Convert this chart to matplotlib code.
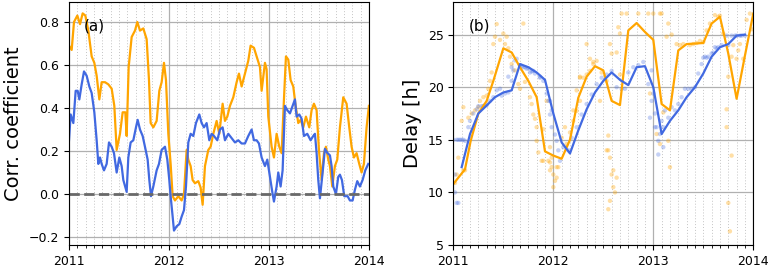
import numpy as np
import matplotlib
matplotlib.use("Agg")
import matplotlib.pyplot as plt
from matplotlib.ticker import MultipleLocator

# ---------------- data (x in months since Jan 2011) ----------------
corr_orange_m = [0, 0.32, 0.6, 1.0, 1.32, 1.64, 1.96, 2.32, 2.72, 3.04, 3.32, 3.64, 3.92, 4.32, 4.72,
                 5.12, 5.44, 5.72, 6.12, 6.44, 6.76, 6.92, 7.16, 7.52, 7.92, 8.2, 8.52, 8.92, 9.32, 9.6,
                 9.8, 10.12, 10.52, 10.84, 11.12, 11.4, 11.64, 11.92, 12.2, 12.44, 12.72, 13.12, 13.52,
                 13.8, 14.12, 14.32, 14.6, 14.84, 15.12, 15.52, 15.8, 16.04, 16.32, 16.72, 17.0, 17.32,
                 17.72, 18.04, 18.44, 18.72, 19.0, 19.32, 19.72, 20.12, 20.4, 20.72, 21.12, 21.52, 21.8,
                 22.2, 22.6, 22.92, 23.12, 23.52, 23.72, 23.92, 24.32, 24.6, 24.92, 25.24, 25.52, 25.8,
                 26.04, 26.32, 26.6, 26.92, 27.2, 27.52, 27.8, 28.12, 28.44, 28.84, 29.12, 29.4, 29.72,
                 30.0, 30.32, 30.6, 30.84, 31.12, 31.32, 31.6, 31.92, 32.2, 32.52, 32.92, 33.32, 33.64,
                 33.92, 34.2, 34.52, 34.84, 35.12, 35.4, 35.72, 36.0]
corr_orange = [0.69, 0.67, 0.80, 0.83, 0.79, 0.84, 0.83, 0.76, 0.64, 0.61, 0.55, 0.44, 0.52, 0.52, 0.51,
               0.49, 0.41, 0.205, 0.28, 0.38, 0.38, 0.27, 0.59, 0.73, 0.76, 0.80, 0.76, 0.77, 0.72, 0.53,
               0.33, 0.31, 0.34, 0.48, 0.52, 0.61, 0.53, 0.28, 0.14, -0.01, -0.03, -0.01, -0.03,
               0.00, 0.205, 0.16, 0.13, 0.065, 0.05, 0.06, 0.03, -0.05, 0.13, 0.205, 0.22, 0.28,
               0.34, 0.28, 0.42, 0.34, 0.36, 0.41, 0.45, 0.52, 0.56, 0.50, 0.56, 0.62, 0.69,
               0.68, 0.63, 0.59, 0.48, 0.61, 0.58, 0.36, 0.22, 0.17, 0.28, 0.22, 0.19, 0.44,
               0.64, 0.625, 0.53, 0.50, 0.41, 0.33, 0.345, 0.31, 0.36, 0.31, 0.39, 0.42, 0.39,
               0.205, 0.065, 0.19, 0.22, 0.16, 0.13, 0.035, 0.13, 0.16, 0.31, 0.45, 0.42, 0.31,
               0.22, 0.17, 0.19, 0.14, 0.10, 0.14, 0.31, 0.41]

corr_blue_m = [0, 0.2, 0.52, 0.8, 1.04, 1.24, 1.52, 1.8, 2.12, 2.44, 2.72, 3.04, 3.32, 3.52, 3.72, 3.92,
               4.2, 4.52, 4.8, 5.12, 5.4, 5.72, 6.04, 6.32, 6.52, 6.92, 7.12, 7.4, 7.72, 8.04, 8.24,
               8.52, 8.84, 9.2, 9.44, 9.64, 9.84, 10.12, 10.52, 10.8, 11.12, 11.52, 11.8, 12.04,
               12.2, 12.44, 12.6, 12.92, 13.24, 13.52, 13.8, 14.04, 14.32, 14.6, 14.92, 15.24, 15.64,
               15.92, 16.2, 16.52, 16.84, 17.12, 17.4, 17.8, 18.12, 18.44, 18.72, 19.12, 19.52,
               19.92, 20.32, 20.72, 21.12, 21.52, 21.92, 22.2, 22.52, 22.8, 23.12, 23.52, 23.8,
               24.12, 24.44, 24.6, 24.92, 25.12, 25.4, 25.64, 25.92, 26.2, 26.52, 26.84, 27.12,
               27.32, 27.64, 27.92, 28.2, 28.6, 29.0, 29.32, 29.52, 29.72, 29.92, 30.12, 30.44,
               30.72, 31.04, 31.32, 31.52, 31.72, 32.04, 32.32, 32.52, 32.76, 33.04, 33.44, 33.72,
               34.04, 34.32, 34.6, 34.92, 35.24, 35.56, 35.92]
corr_blue = [0.25, 0.37, 0.33, 0.48, 0.48, 0.44, 0.51, 0.57, 0.55, 0.50, 0.47, 0.38, 0.25, 0.14, 0.17, 0.14,
             0.11, 0.14, 0.24, 0.22, 0.19, 0.10, 0.17, 0.13, 0.065, 0.01, 0.17, 0.24, 0.25, 0.31, 0.345,
             0.30, 0.27, 0.205, 0.16, 0.065, -0.01, 0.035, 0.11, 0.14, 0.205, 0.22, 0.16, 0.065,
             -0.01, -0.105, -0.17, -0.15, -0.14, -0.105, -0.075, 0.035, 0.24, 0.28, 0.27, 0.33, 0.37,
             0.33, 0.31, 0.33, 0.25, 0.28, 0.27, 0.25, 0.30, 0.31, 0.25, 0.28, 0.26,
             0.24, 0.25, 0.235, 0.235, 0.27, 0.30, 0.25, 0.25, 0.235, 0.17, 0.13, 0.16,
             0.08, 0.00, -0.035, 0.035, 0.10, 0.035, 0.11, 0.41, 0.39, 0.375, 0.41, 0.44,
             0.36, 0.37, 0.35, 0.27, 0.28, 0.25, 0.27, 0.28, 0.19, 0.065, -0.02, 0.10,
             0.21, 0.19, 0.18, 0.13, 0.035, 0.00, 0.08, 0.09, 0.065, -0.01, -0.01, -0.03,
             -0.03, 0.02, 0.06, 0.035, 0.065, 0.11, 0.14]

delay_orange_m = [0, 1.4, 2.08, 3, 4, 4.8, 6, 7, 8, 9, 10, 11, 12, 13, 14, 15, 16, 17, 18, 19, 20, 21,
                  22, 23, 24, 25, 26, 27, 28, 29, 30, 31, 32, 33, 34, 35, 36]
delay_orange = [10.8, 12.2, 14.9, 17.5, 18.7, 20.6, 23.7, 23.3, 21.9, 20.6, 19.05, 13.9, 13.5, 13.2, 15.0,
                19.0, 21.0, 22.0, 21.6, 18.7, 18.3, 25.4, 26.1, 25.25, 24.5, 18.4, 17.8, 23.5, 24.1,
                24.15, 24.2, 26.05, 26.7, 23.2, 18.9, 23.0, 27.0]

delay_blue_m = [1, 2, 3, 4, 5, 6, 7, 8, 9, 10, 11, 12, 13, 14, 15, 16, 17, 18, 19, 20, 21, 22, 23, 24,
                25, 26, 27, 28, 29, 30, 31, 32, 33, 34, 35]
delay_blue = [12.4, 15.55, 17.5, 18.26, 19.05, 19.5, 19.7, 22.2, 21.9, 21.4, 20.7, 17.5, 14.75, 13.7,
              15.9, 17.9, 19.5, 20.6, 21.4, 20.7, 20.2, 21.9, 22.0, 20.0, 15.55, 16.8, 17.8, 19.05,
              20.0, 21.3, 22.9, 23.8, 24.1, 24.9, 25.0]

scat_orange_m = [0.2, 0.4, 0.6, 1.0, 1.2, 1.2, 1.4, 1.8, 2.2, 2.6, 3.0, 3.2, 3.6, 4.0, 4.2, 4.4, 4.6, 4.8,
                 5.0, 5.2, 5.6, 6.0, 6.2, 6.4, 6.6, 6.8, 7.0, 7.4, 7.8, 8.0, 8.4, 8.6, 9.2, 9.4, 9.8,
                 10.0, 10.2, 10.6, 10.8, 11.2, 11.6, 11.8, 11.6, 9.6, 10.0, 10.8, 11.4, 11.6, 11.8,
                 12.0, 12.2, 12.4, 12.6, 12.0, 13.6, 14.0, 14.4, 14.8, 15.2, 15.2, 15.6, 16.0, 16.4,
                 16.8, 17.2, 17.8, 18.4, 18.6, 18.8, 19.2, 19.6, 20.0, 20.2, 20.8, 22.2, 23.4, 24.0,
                 19.8, 20.0, 18.8, 19.0, 19.6, 18.6, 19.0, 19.2, 19.4, 18.8, 18.6, 18.4, 16.0, 16.4,
                 16.8, 15.2, 14.8, 14.4, 13.4, 13.0, 12.4, 17.6, 23.6, 25.0, 25.6, 26.2, 26.8, 27.6,
                 28.8, 30.0, 30.4, 30.8, 31.4, 31.8, 32.4, 33.0, 33.4, 34.0, 34.4, 34.8, 33.2, 33.0,
                 33.4, 32.8, 32.8, 25.2, 24.8, 25.8, 24.4, 26.0, 35.2, 35.6, 25.8, 24.8, 27.2, 28.4,
                 29.2, 29.6, 32.0, 33.6, 34.2, 35.8]
scat_orange = [10.9, 11.7, 13.3, 16.8, 18.1, 12.1, 12.1, 17.1, 17.5, 17.8, 18.1, 18.7, 19.05, 19.2, 19.85,
               20.6, 21.4, 24.1, 24.8, 26.0, 24.5, 25.1, 24.1, 24.8, 23.7, 22.9, 22.2, 21.6, 20.3, 19.85,
               26.05, 20.5, 19.05, 18.4, 17.0, 14.9, 13.8, 13.0, 16.0, 18.7, 14.3, 13.3, 12.85, 17.4,
               16.2, 13.0, 13.0, 12.1, 12.4, 11.7, 11.1, 11.4, 12.4, 10.5, 14.6, 15.7, 16.8, 17.75,
               18.7, 20.9, 20.9, 21.2, 21.55, 22.2, 22.5, 21.4, 20.6, 14.0, 13.3, 12.1, 11.4, 21.2,
               27.0, 27.0, 27.0, 27.0, 27.0, 25.7, 25.1, 24.1, 23.2, 23.3, 15.4, 11.7, 10.5, 10.0,
               9.2, 8.4, 14.0, 24.1, 22.7, 22.4, 21.0, 19.7, 17.8, 16.2, 15.2, 12.4, 18.7, 19.4,
               27.0, 24.8, 25.0, 24.1, 24.1, 24.1, 24.3, 25.4, 26.05, 26.85, 26.7, 25.1, 21.0, 22.9,
               22.7, 24.1, 22.7, 6.3, 9.0, 13.5, 16.2, 17.9, 17.6, 14.6, 14.9, 15.55, 12.4, 26.4,
               27.0, 26.05, 27.0, 24.0, 24.0, 24.2, 24.4, 26.8, 24.0, 23.5, 25.5]

scat_blue_m = [0, 0.4, 0.8, 1.2, 0.2, 0.4, 0.6, 0.2, 1.4, 1.8, 2.0, 2.4, 2.8, 3.4, 3.8, 4.4, 4.8, 5.2,
               5.6, 5.8, 6.2, 6.6, 7.0, 7.2, 7.4, 7.6, 8.0, 8.4, 8.8, 9.2, 9.8, 10.4, 10.8, 11.2, 11.6,
               11.8, 7.0, 6.6, 9.6, 10.4, 11.4, 11.6, 11.8, 12.2, 12.4, 12.6, 12.8, 13.2, 13.8, 14.2,
               14.8, 15.4, 16.0, 16.6, 17.2, 17.8, 18.4, 19.0, 19.6, 20.2, 20.6, 21.0, 21.6, 22.2,
               22.8, 23.4, 23.6, 23.8, 24.2, 23.8, 24.0, 24.2, 24.4, 24.6, 24.8, 25.0, 25.2, 25.4,
               25.8, 26.2, 26.6, 27.0, 27.4, 27.8, 28.2, 28.6, 29.0, 29.4, 29.8, 30.2, 30.6, 31.0,
               31.4, 31.8, 32.2, 32.8, 33.4, 34.0, 34.6, 24.6, 25.2, 3.0, 3.6, 4.0, 8.2, 8.6, 9.0,
               9.4, 30.0, 30.4, 31.2, 31.6, 33.0, 33.8, 34.4, 35.0, 1.0, 0.6]
scat_blue = [15.0, 15.0, 15.0, 15.0, 10.0, 9.0, 9.0, 11.7, 14.9, 16.2, 16.8, 17.5, 17.9, 18.2, 18.3, 18.7,
             19.05, 19.7, 19.85, 19.2, 19.4, 19.5, 20.6, 21.6, 22.55, 22.7, 22.1, 21.9, 21.75, 21.4,
             21.3, 21.0, 20.6, 19.4, 18.7, 17.8, 21.9, 21.0, 21.55, 20.9, 18.7, 17.4, 16.2, 15.5,
             14.9, 14.0, 13.0, 14.3, 14.0, 15.2, 16.2, 17.4, 18.4, 19.3, 20.3, 20.9, 21.2, 21.55,
             20.0, 19.85, 19.85, 21.4, 21.9, 22.1, 22.4, 20.3, 17.1, 18.7, 16.2, 21.6, 19.4, 17.5,
             16.2, 14.9, 15.55, 16.8, 16.2, 17.8, 17.1, 18.1, 17.8, 18.4, 19.05, 19.85, 19.85,
             19.85, 20.0, 21.3, 22.2, 22.9, 22.9, 23.2, 23.8, 23.8, 24.0, 24.9, 24.9, 24.9, 24.9,
             13.6, 14.3, 18.2, 18.2, 18.3, 22.0, 21.9, 21.8, 21.5, 22.8, 22.8, 23.3, 23.7, 24.0,
             24.9, 24.9, 24.9, 15.0, 15.0]

years = [2011, 2012, 2013, 2014]

ORANGE = "#FFA500"
BLUE = "#4169E1"


def to_year(m):
    return 2011 + np.asarray(m, dtype=float) / 12.0


fig = plt.figure(figsize=(7.71, 2.65), dpi=100)
ax1 = fig.add_axes([0.0895, 0.0755, 0.389, 0.917])
ax2 = fig.add_axes([0.588, 0.0755, 0.389, 0.917])

for ax in (ax1, ax2):
    ax.set_xlim(2011, 2014)
    ax.set_xticks(years)
    ax.set_xticklabels([str(y) for y in years])
    ax.xaxis.set_minor_locator(MultipleLocator(1 / 12))
    ax.grid(which="major", color="#b0b0b0", linewidth=0.9)
    ax.grid(which="minor", axis="x", color="#c4c4c4", linestyle=(0, (1, 2)), linewidth=0.7)
    ax.tick_params(labelsize=9)
    ax.set_axisbelow(True)

# left panel
ax1.plot(to_year(corr_orange_m), corr_orange, color=ORANGE, lw=1.6)
ax1.plot(to_year(corr_blue_m), corr_blue, color=BLUE, lw=1.6)
ax1.axhline(0, color="dimgray", lw=2, ls="--")
ax1.set_ylim(-0.237, 0.893)
ax1.set_yticks([-0.2, 0.0, 0.2, 0.4, 0.6, 0.8])
ax1.set_ylabel("Corr. coefficient", fontsize=14)
ax1.text(0.05, 0.90, "(a)", transform=ax1.transAxes, fontsize=11, va="center", ha="left")

# right panel
ax2.scatter(to_year(scat_orange_m), scat_orange, s=10, color=ORANGE, alpha=0.35, edgecolors="none")
ax2.scatter(to_year(scat_blue_m), scat_blue, s=10, color=BLUE, alpha=0.3, edgecolors="none")
ax2.plot(to_year(delay_orange_m), delay_orange, color=ORANGE, lw=1.6)
ax2.plot(to_year(delay_blue_m), delay_blue, color=BLUE, lw=1.6)
ax2.set_ylim(5, 28.1)
ax2.set_yticks([5, 10, 15, 20, 25])
ax2.set_ylabel("Delay [h]", fontsize=14)
ax2.text(0.05, 0.90, "(b)", transform=ax2.transAxes, fontsize=11, va="center", ha="left")

fig.savefig("out.png", dpi=100)
